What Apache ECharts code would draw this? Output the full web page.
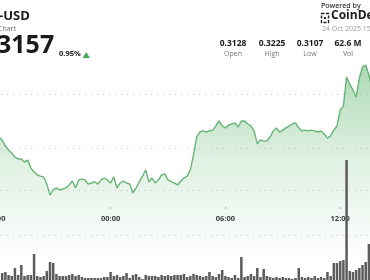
<!DOCTYPE html>
<html><head><meta charset="utf-8">
<script src="https://cdn.jsdelivr.net/npm/echarts@6/dist/echarts.min.js"></script>
<style>html,body{margin:0;padding:0;background:#fff;overflow:hidden}#c{width:370px;height:280px}</style>
</head><body><div id="c"></div>
<script>
// ---- data (minutes relative to 00:00, 24 Oct 2025) ----
const lineStartMin = -350;
const volStartMin = -340;
const stepMin = 10;
const priceValues = [
  0.31301,
  0.31287,0.31259,0.31241,0.31227,0.31208,0.31199,0.31199,0.31185,0.31194,0.31157,
  0.31139,0.31125,0.31120,0.31116,0.31083,0.31032,0.31056,0.31065,0.31056,0.31060,
  0.31065,0.31079,0.31097,0.31065,0.31102,0.31106,0.31102,0.31083,0.31088,0.31093,
  0.31083,0.31102,0.31111,0.31102,0.31088,0.31116,0.31065,0.31088,0.31097,0.31088,
  0.31083,0.31042,0.31065,0.31093,0.31120,0.31148,0.31093,0.31111,0.31088,0.31102,
  0.31125,0.31130,0.31102,0.31093,0.31088,0.31079,0.31097,0.31111,0.31120,0.31148,
  0.31218,0.31301,0.31324,0.31329,0.31324,0.31329,0.31333,0.31352,0.31375,0.31352,
  0.31343,0.31356,0.31361,0.31366,0.31347,0.31375,0.31375,0.31361,0.31352,0.31329,
  0.31269,0.31287,0.31282,0.31282,0.31301,0.31329,0.31343,0.31324,0.31333,0.31343,
  0.31352,0.31361,0.31366,0.31343,0.31329,0.31333,0.31329,0.31333,0.31329,0.31324,
  0.31329,0.31315,0.31296,0.31306,0.31333,0.31352,0.31426,0.31444,0.31579,0.31546,
  0.31519,0.31486,0.31574,0.31625,0.31634,0.31588,0.31519
];
const volumeValues = [
  0.7,0.8,0.5,0.4,1.2,0.5,1.5,0.4,0.5,0.5,
  2.6,0.4,0.3,0.4,0.9,1.8,1.7,0.6,0.4,0.4,
  0.4,0.5,0.6,0.4,0.5,0.3,0.2,0.2,0.2,0.2,
  0.2,0.2,0.3,0.3,0.8,0.4,0.5,0.3,0.4,0.7,
  0.2,0.5,0.6,0.3,0.1,0.5,0.4,0.4,0.4,0.3,
  0.5,0.4,0.5,0.4,0.5,0.5,0.5,0.6,0.3,0.4,
  0.6,0.5,0.4,0.3,0.4,0.8,0.4,0.3,0.6,1.0,
  0.4,0.3,0.2,0.5,0.2,2.3,0.3,0.4,0.6,0.4,
  1.2,0.3,1.1,0.4,0.3,0.2,0.3,0.2,0.3,0.2,
  0.2,0.1,0.2,1.2,0.3,0.2,0.3,0.2,0.4,0.2,
  0.3,0.2,0.8,0.4,1.7,1.7,1.9,2.0,12.0,0.9,
  0.8,1.0,1.2,1.5,1.8,3.6
];
const timeTickLabels = {'-720':'12:00','-360':'18:00','0':'00:00','360':'06:00','720':'12:00','1080':'18:00'};
const pairText = '-USD';
const subTitleText = 'Chart';
const lastPriceText = '3157';
const changeText = '0.95%';
const statValues = ['0.3128','0.3225','0.3107','62.6 M'];
const statLabels = ['Open','High','Low','Vol'];
const poweredText = 'Powered by';
const brandText = 'CoinDesk';
const dateText = '24 Oct 2025 15';

// ---- build ----
const lineData = priceValues.map((v,i)=>[lineStartMin + i*stepMin, v]);
const volData = volumeValues.map((v,i)=>[volStartMin + i*stepMin, v]);
const FONT = '"Open Sans", "Noto Sans", sans-serif';
const dot = '#c9c9c9';
const statX = [233, 272, 310, 348];

const graphic = [
  {type:'text', left:-1, top:10, style:{text:pairText, font:'bold 13px '+FONT, fill:'#1b1b1b'}},
  {type:'text', left:-2, top:25, style:{text:subTitleText, font:'7px '+FONT, fill:'#666'}},
  {type:'text', left:-3, top:33, style:{text:lastPriceText, font:'bold 25px '+FONT, fill:'#1b1b1b'}},
  {type:'text', left:59, top:50, style:{text:changeText, font:'bold 7.5px '+FONT, fill:'#1b1b1b'}},
  {type:'polygon', shape:{points:[[82.5,58],[90,58],[86.25,52]]}, style:{fill:'#4cae5b'}},
  {type:'text', left:321, top:2, style:{text:poweredText, font:'600 7px '+FONT, fill:'#333'}},
  {type:'rect', shape:{x:321.5,y:13.5,width:7,height:9}, style:{fill:'none', stroke:'#1b1b1b', lineWidth:1.4, lineDash:[3,1.5]}},
  {type:'rect', shape:{x:324,y:17,width:2,height:2}, style:{fill:'#1b1b1b'}},
  {type:'text', left:331, top:10, style:{text:brandText, font:'bold 12px '+FONT, fill:'#1b1b1b'}},
  {type:'text', left:322, top:25, style:{text:dateText, font:'7px '+FONT, fill:'#9a9a9a'}}
];
statValues.forEach((t,i)=>{
  graphic.push({type:'text', x:statX[i], y:44, style:{text:t, font:'bold 8.5px '+FONT, fill:'#1b1b1b', align:'center', verticalAlign:'middle'}});
  graphic.push({type:'text', x:statX[i], y:54, style:{text:statLabels[i], font:'7px '+FONT, fill:'#777', align:'center', verticalAlign:'middle'}});
});

const chart = echarts.init(document.getElementById('c'), null, {renderer:'canvas'});
chart.setOption({
  animation:false,
  backgroundColor:'#fff',
  graphic: graphic,
  grid:[
    {left:-119, width:574, top:40, height:216, outerBoundsMode:'none', containLabel:false},
    {left:-119, width:574, top:190, height:90, outerBoundsMode:'none', containLabel:false}
  ],
  xAxis:[
    {type:'value', gridIndex:0, min:-720, max:1080, interval:360, offset:-49,
     axisLine:{show:false}, splitLine:{show:false},
     axisTick:{show:true, length:2, lineStyle:{color:'#aaa'}},
     axisLabel:{margin:8, color:'#333', fontFamily:FONT, fontWeight:'bold', fontSize:7.5,
       formatter:(v)=>timeTickLabels[String(Math.round(v))]||''}},
    {type:'value', gridIndex:1, min:-720, max:1080, interval:360, show:false}
  ],
  yAxis:[
    {type:'value', gridIndex:0, min:0.3075, max:0.3175, interval:0.0025,
     axisLine:{show:false}, axisTick:{show:false}, axisLabel:{show:false},
     splitLine:{show:true, lineStyle:{type:[1,5], width:1, color:['rgba(0,0,0,0)','rgba(0,0,0,0)',dot,dot,'rgba(0,0,0,0)']}}},
    {type:'value', gridIndex:1, min:0, max:9, interval:4.5,
     axisLine:{show:false}, axisTick:{show:false}, axisLabel:{show:false},
     splitLine:{show:true, lineStyle:{type:[1,5], width:1, color:['rgba(0,0,0,0)',dot,dot]}}}
  ],
  series:[
    {type:'line', xAxisIndex:0, yAxisIndex:0, data:lineData, symbol:'none', z:2,
     lineStyle:{color:'#66b575', width:1.4},
     areaStyle:{color:new echarts.graphic.LinearGradient(0,0,0,1,[
       {offset:0, color:'rgba(108,187,122,0.8)'},
       {offset:0.5, color:'rgba(108,187,122,0.3)'},
       {offset:1, color:'rgba(108,187,122,0.02)'}])}},
    {type:'bar', xAxisIndex:1, yAxisIndex:1, data:volData, barWidth:2.5, z:3, clip:false,
     itemStyle:{color:'#5c5c5c'}}
  ]
});
</script>
</body></html>
